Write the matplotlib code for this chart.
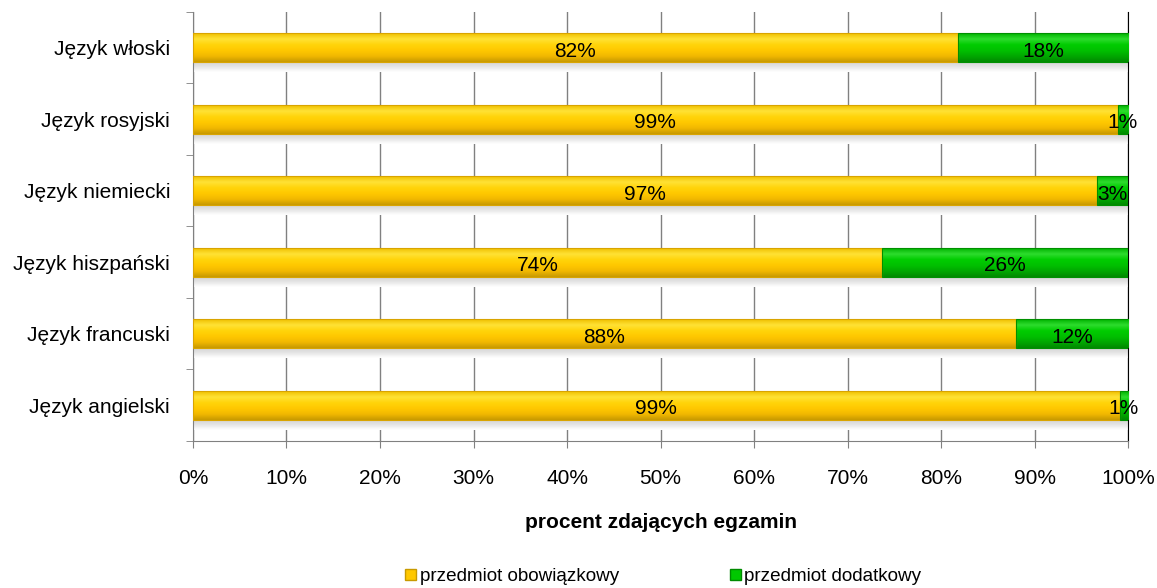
import matplotlib
matplotlib.use("Agg")
import matplotlib.pyplot as plt
from matplotlib.colors import LinearSegmentedColormap
from matplotlib.patches import Patch
import numpy as np

plt.rcParams['font.family'] = ['Liberation Sans', 'DejaVu Sans']

categories = ["Język angielski", "Język francuski", "Język hiszpański",
              "Język niemiecki", "Język rosyjski", "Język włoski"]
obowiazkowy = [99.1, 88.0, 73.7, 96.7, 98.9, 81.8]
dodatkowy = [0.9, 12.0, 26.3, 3.3, 1.1, 18.2]
labels_ob = ["99%", "88%", "74%", "97%", "99%", "82%"]
labels_do = ["1%", "12%", "26%", "3%", "1%", "18%"]
series_names = ["przedmiot obowiązkowy", "przedmiot dodatkowy"]

FS = 15
fig = plt.figure(figsize=(11.57, 5.88), dpi=100)
ax = fig.add_axes([0.1668, 0.2500, 0.8082, 0.7296])

y = np.arange(len(categories))
h = 0.4
ob = np.array(obowiazkowy) / 100
do = np.array(dodatkowy) / 100

cm_y = LinearSegmentedColormap.from_list("yel", ["#C89A00", "#F2B800", "#FFC800", "#FFD40A", "#FFE236", "#F0C000"])
cm_g = LinearSegmentedColormap.from_list("grn", ["#008A00", "#00A800", "#00C000", "#00CC00", "#2EDC2E", "#00B400"])
cm_s = LinearSegmentedColormap.from_list("shd", ["#FFFFFF", "#E4E4E4", "#D2D2D2"])
grad = np.linspace(0, 1, 64).reshape(-1, 1)

for i in range(len(categories)):
    ax.imshow(grad, extent=[0, ob[i] + do[i], y[i] - h / 2 - 0.14, y[i] - h / 2],
              origin='lower', cmap=cm_s, aspect='auto', zorder=2, interpolation='bilinear')
    ax.imshow(grad, extent=[0, ob[i], y[i] - h / 2, y[i] + h / 2],
              origin='lower', cmap=cm_y, aspect='auto', zorder=3, interpolation='bilinear')
    ax.imshow(grad, extent=[ob[i], ob[i] + do[i], y[i] - h / 2, y[i] + h / 2],
              origin='lower', cmap=cm_g, aspect='auto', zorder=3, interpolation='bilinear')

ax.barh(y, ob, height=h, fill=False, edgecolor='#D9A400', linewidth=0.8, zorder=4)
ax.barh(y, do, left=ob, height=h, fill=False, edgecolor='#009000', linewidth=0.8, zorder=4)

for i in range(len(categories)):
    ax.annotate(labels_ob[i], (ob[i] / 2, y[i]), xytext=(0, -2.5), textcoords='offset points',
                ha='center', va='center', fontsize=FS, zorder=6)
    ax.annotate(labels_do[i], (ob[i] + do[i] / 2, y[i]), xytext=(0, -2.5), textcoords='offset points',
                ha='center', va='center', fontsize=FS, zorder=6)

ax.set_xlim(0, 1)
ax.set_ylim(-0.5, len(categories) - 0.5)
ax.set_xticks(np.linspace(0, 1, 11))
ax.set_xticklabels([f"{int(v)}%" for v in np.linspace(0, 100, 11)], fontsize=FS)
ax.set_yticks(y)
ax.set_yticklabels(categories, fontsize=FS)
ax.set_yticks(np.arange(-0.5, len(categories), 1), minor=True)
ax.tick_params(axis='y', which='major', length=0, pad=16.5)
ax.tick_params(axis='y', which='minor', length=5, color='#808080')
ax.tick_params(axis='x', length=5, color='#808080', pad=15)
ax.grid(axis='x', color='#808080', linewidth=1, zorder=1)
ax.set_axisbelow(True)
ax.spines['top'].set_visible(False)
ax.spines['right'].set_color('#000000')
ax.spines['left'].set_color('#808080')
ax.spines['bottom'].set_color('#808080')

ax.set_xlabel("procent zdających egzamin", fontsize=FS, fontweight='bold', labelpad=18)

handles = [Patch(facecolor='#FFC800', edgecolor='#C89A00', label=series_names[0]),
           Patch(facecolor='#00C800', edgecolor='#008A00', label=series_names[1])]
fig.legend(handles=handles, labels=series_names, loc='lower center', ncol=2,
           bbox_to_anchor=(0.5735, -0.024), frameon=False, fontsize=13.6,
           handlelength=0.55, handleheight=0.55, handletextpad=0.2, columnspacing=5.9)

fig.savefig("out.png", dpi=100)
